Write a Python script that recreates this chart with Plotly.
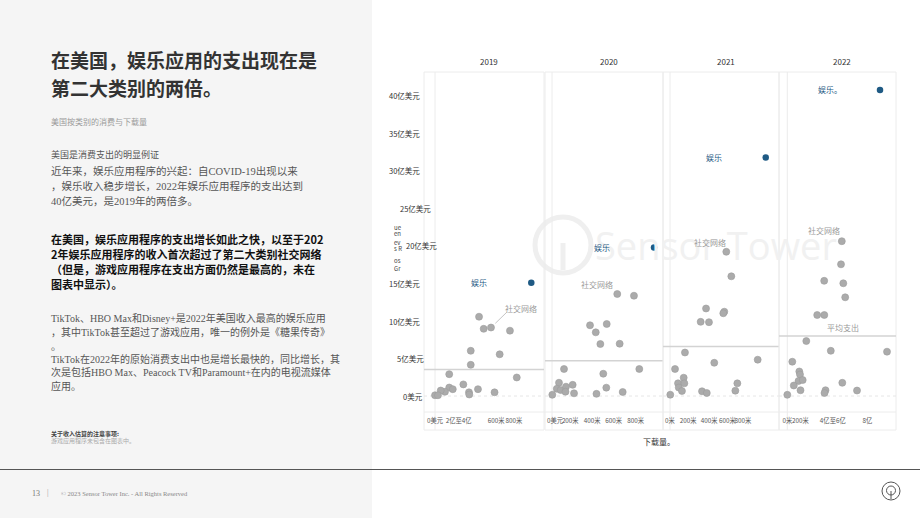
import plotly.graph_objects as go

W, H = 920, 518


def px(x):
    return x / W


def py(y):
    return 1 - y / H


# ---------------- data ----------------
years = ["2019", "2020", "2021", "2022"]

# other categories: downloads (M) and consumer spend (亿美元)
dl_2019 = [446, 493, 567, 759, 362, 655, 362, 144, 828, 287, 435, 144, 180, 101, 58, 0, 30, 344, 347, 603]
rev_2019 = [10.57, 8.96, 9.13, 8.71, 6.03, 5.56, 4.16, 2.91, 2.47, 1.55, 0.91, 1.13, 0.91, 0.56, 0.73, 0.1, 0.1, 0.49, 0.2, 0.49]

dl_2020 = [625, 785, 364, 524, 419, 463, 648, 115, 491, 836, 67, 198, 46, 83, 134, 129, 211, 3, 426, 520, 677]
rev_2020 = [13.6, 13.37, 9.43, 9.6, 8.49, 6.93, 6.97, 3.6, 2.97, 3.6, 1.77, 1.49, 0.96, 0.8, 1.24, 0.57, 0.36, 0.16, 0.29, 1.11, 0.53]

dl_2021 = [617, 672, 395, 595, 584, 336, 427, 164, 485, 961, 55, 150, 88, 157, 96, 131, 3, 351, 403, 738, 716]
rev_2021 = [19.23, 15.96, 11.67, 11.24, 11.03, 9.89, 9.84, 5.8, 4.43, 4.84, 3.6, 2.44, 1.69, 1.69, 1.13, 0.67, 0.17, 0.63, 0.4, 1.69, 0.71]

dl_2022 = [545, 537, 369, 560, 579, 299, 370, 190, 435, 997, 50, 120, 127, 112, 154, 65, 132, 0, 382, 372, 550, 697]
rev_2022 = [20.64, 17.56, 15.36, 15.03, 13.16, 10.8, 10.8, 7.33, 6.03, 5.91, 4.57, 3.27, 2.87, 2.0, 2.13, 1.4, 0.77, 0.16, 0.77, 0.4, 1.76, 0.73]

other_dl = [dl_2019, dl_2020, dl_2021, dl_2022]
other_rev = [rev_2019, rev_2020, rev_2021, rev_2022]

# entertainment
ent_dl = [975, 977, 1049, 927]
ent_rev = [15.1, 19.8, 31.8, 40.8]
ent_labels = ["娱乐", "娱乐", "娱乐", "娱乐。"]
ent_label_dl = [449, 482, 482, 427]

# social networking label anchors
soc_label_dl = [874, 434, 438, 367]
soc_label_rev = [11.7, 14.9, 20.44, 22.1]

# average spend per year
avg_rev = [3.55, 4.7, 6.6, 8.0]

# axis ticks
y_tickvals = [0, 5, 10, 15, 20, 25, 30, 35, 40]
y_ticktext = ["0美元", "5亿美元", "10亿美元", "15亿美元", "20亿美元", "25亿美元", "30亿美元", "35亿美元", "40亿美元"]

x_tickvals = [[0, 240, 620, 800], [30, 175, 385, 590, 800], [0, 200, 430, 630, 800], [0, 130, 455, 800]]
x_ticktext = [["0美元", "2亿至4亿", "600米", "800米"],
              ["0美元", "200米", "400米", "600米", "800米"],
              ["0米", "200米", "400米", "600米", "800米"],
              ["0米", "200米", "4亿至6亿", "8亿"]]

# ---------------- layout geometry ----------------
panel_px = [(424, 544), (545, 663), (663, 779), (779, 896)]
x_ranges = [[-111.4, 1103.8], [-67, 1063], [-76.7, 1194.5], [-83, 1087]]
y_range = [-2.133, 43.2]
ytop, ybot = 72, 412

GRAY = "#ababab"
BLUE = "#1f5a84"
CJK = "Noto Sans CJK SC, Noto Sans, sans-serif"
SERIF = "Liberation Serif, Noto Sans CJK SC, serif"

fig = go.Figure()
layout = dict(
    width=W, height=H,
    margin=dict(l=0, r=0, t=0, b=0, autoexpand=False),
    paper_bgcolor="white", plot_bgcolor="rgba(0,0,0,0)",
    showlegend=False,
    font=dict(family=CJK, size=8, color="#444"),
    yaxis=dict(domain=[py(ybot), py(ytop)], range=y_range, showgrid=False,
               zeroline=False, showticklabels=False, showline=False, fixedrange=True),
)

shapes = []
annotations = []

# left gray panel and footer line
shapes.append(dict(type="rect", xref="paper", yref="paper", x0=0, x1=px(372), y0=0, y1=1,
                   fillcolor="#f5f5f5", line=dict(width=0), layer="below"))
shapes.append(dict(type="line", xref="paper", yref="paper", x0=0, x1=1, y0=py(469.5), y1=py(469.5),
                   line=dict(color="#555", width=1), layer="below"))

# watermark
shapes.append(dict(type="circle", xref="paper", yref="paper", x0=px(535), x1=px(591), y0=py(273), y1=py(217),
                   line=dict(color="#efefef", width=5), layer="below"))
shapes.append(dict(type="line", xref="paper", yref="paper", x0=px(563), x1=px(563), y0=py(270), y1=py(243),
                   line=dict(color="#efefef", width=5), layer="below"))
annotations.append(dict(text="Sensor Tower", xref="paper", yref="paper", x=px(593), y=py(245),
                        xanchor="left", yanchor="middle", showarrow=False,
                        font=dict(family="Open Sans, sans-serif", size=38, color="#f1f1f1")))

for i in range(4):
    n = "" if i == 0 else str(i + 1)
    xa = "xaxis" + n
    layout[xa] = dict(domain=[px(panel_px[i][0]), px(panel_px[i][1])], range=x_ranges[i], anchor="y",
                      showgrid=False, zeroline=False, showline=False, ticks="", tickangle=0,
                      tickvals=x_tickvals[i], ticktext=x_ticktext[i], automargin=False,
                      ticklabelstandoff=4,
                      tickfont=dict(family=CJK, size=6.3, color="#555"), fixedrange=True)
    xr = "x" + n
    # panel frame
    shapes.append(dict(type="rect", xref=xr + " domain", yref="paper", x0=0, x1=1, y0=py(430), y1=py(ytop),
                       line=dict(color="#ececec", width=1), layer="below"))
    # x = 0 line
    shapes.append(dict(type="line", xref=xr, yref="paper", x0=0, x1=0, y0=py(430), y1=py(ytop),
                       line=dict(color="#ececec", width=1), layer="below"))
    # y = 0 line
    shapes.append(dict(type="line", xref=xr + " domain", yref="y", x0=0, x1=1, y0=0, y1=0,
                       line=dict(color="#e6e6e6", width=1, dash="dot"), layer="below"))
    # average spend line
    shapes.append(dict(type="line", xref=xr + " domain", yref="y", x0=0, x1=1, y0=avg_rev[i], y1=avg_rev[i],
                       line=dict(color="#d3d3d3", width=1.5), layer="below"))

    fig.add_trace(go.Scatter(x=other_dl[i], y=other_rev[i], mode="markers", xaxis=xr, yaxis="y",
                             marker=dict(size=7, color=GRAY, line=dict(width=0.6, color="#9c9c9c")),
                             hoverinfo="skip"))
    fig.add_trace(go.Scatter(x=[ent_dl[i]], y=[ent_rev[i]], mode="markers", xaxis=xr, yaxis="y",
                             marker=dict(size=6.5, color=BLUE), hoverinfo="skip"))

    annotations.append(dict(text=ent_labels[i], xref=xr, yref="y", x=ent_label_dl[i], y=ent_rev[i],
                            showarrow=False, font=dict(family=CJK, size=8, color=BLUE)))
    annotations.append(dict(text="社交网络", xref=xr, yref="y", x=soc_label_dl[i], y=soc_label_rev[i],
                            showarrow=False, font=dict(family=CJK, size=8, color="#9a9a9a")))
    annotations.append(dict(text=years[i], xref=xr + " domain", yref="paper", x=0.54, y=py(62),
                            xanchor="center", yanchor="middle",
                            showarrow=False, font=dict(family=CJK, size=8, color="#333")))

# leader line for social networking (2019)
shapes.append(dict(type="line", xref="x", yref="y", x0=726, y0=11.16, x1=611, y1=9.69,
                   line=dict(color="#b5b5b5", width=0.8)))
annotations.append(dict(text="平均支出", xref="x4", yref="y", x=554, y=9.1, showarrow=False,
                        font=dict(family=CJK, size=8, color="#9a9a9a")))

# horizontal header/axis separators
shapes.append(dict(type="line", xref="paper", yref="paper", x0=px(424), x1=px(896), y0=py(ybot), y1=py(ybot),
                   line=dict(color="#ececec", width=1), layer="below"))

# y tick labels
y_label_right = [425, 426, 422, 422, 439, 433, 422, 422, 422]
for v, t, r in zip(y_tickvals, y_ticktext, y_label_right):
    annotations.append(dict(text=t, xref="paper", yref="y", x=px(r), y=v, xanchor="right",
                            showarrow=False, font=dict(family=CJK, size=7.5, color="#333")))

# garbled rotated axis title fragments
frag = [("ue", 227.7), ("en", 233.7), ("ev", 242.3), ("s R", 248.3), ("os", 260), ("Gr", 268.7)]
for t, yy in frag:
    annotations.append(dict(text=t, xref="paper", yref="paper", x=px(392), y=py(yy), xanchor="left",
                            showarrow=False, font=dict(family=CJK, size=6, color="#444")))

annotations.append(dict(text="下载量。", xref="paper", yref="paper", x=px(659), y=py(441),
                        xanchor="center", yanchor="middle",
                        showarrow=False, font=dict(family=CJK, size=8, color="#333")))

# ---------------- left text panel ----------------
def txt(t, x, y, size, color, family=CJK, bold=False):
    annotations.append(dict(text=("<b>%s</b>" % t) if bold else t, xref="paper", yref="paper",
                            x=px(x), y=py(y), xanchor="left", yanchor="middle", showarrow=False,
                            font=dict(family=family, size=size, color=color)))


txt("在美国，娱乐应用的支出现在是", 49, 59, 19, "#333", bold=True)
txt("第二大类别的两倍。", 49, 87, 19, "#333", bold=True)
txt("美国按类别的消费与下载量", 49, 122, 8, "#9a9a9a")

txt("美国是消费支出的明显例证", 49, 155, 9, "#555")
para1 = ["近年来，娱乐应用程序的兴起：自COVID-19出现以来",
         "，娱乐收入稳步增长，2022年娱乐应用程序的支出达到",
         "40亿美元，是2019年的两倍多。"]
for k, line in enumerate(para1):
    txt(line, 49, 171 + k * 15.2, 10.5, "#555", family=SERIF)

para2 = ["在美国，娱乐应用程序的支出增长如此之快，以至于202",
         "2年娱乐应用程序的收入首次超过了第二大类别社交网络",
         "（但是，游戏应用程序在支出方面仍然是最高的，未在",
         "图表中显示）。"]
for k, line in enumerate(para2):
    txt(line, 49, 239 + k * 15, 11, "#111", bold=True)

para3 = [("TikTok、HBO Max和Disney+是2022年美国收入最高的娱乐应用", 318.3),
         ("，其中TikTok甚至超过了游戏应用，唯一的例外是《糖果传奇》", 331.7),
         ("。", 346.7),
         ("TikTok在2022年的原始消费支出中也是增长最快的，同比增长，其", 359.3),
         ("次是包括HBO Max、Peacock TV和Paramount+在内的电视流媒体", 372.3),
         ("应用。", 385.7)]
for line, yy in para3:
    txt(line, 49, yy, 10, "#555", family=SERIF)

txt("关于收入估算的注意事项:", 49, 433, 6, "#444", bold=True)
txt("游戏应用程序未包含在图表中。", 49, 440.5, 6, "#aaa")

# footer
txt("13", 30, 493, 8, "#777", family=SERIF)
txt("|", 45, 492, 8, "#999", family=SERIF)
txt("© 2023 Sensor Tower Inc. - All Rights Reserved", 59, 493, 6.5, "#888", family=SERIF)
shapes.append(dict(type="circle", xref="paper", yref="paper", x0=px(882), x1=px(900), y0=py(500), y1=py(482),
                   line=dict(color="#555", width=1)))
shapes.append(dict(type="circle", xref="paper", yref="paper", x0=px(886.5), x1=px(895.5), y0=py(495), y1=py(486),
                   line=dict(color="#555", width=1)))
shapes.append(dict(type="line", xref="paper", yref="paper", x0=px(891), x1=px(891), y0=py(499), y1=py(491),
                   line=dict(color="#555", width=1)))

layout["shapes"] = shapes
layout["annotations"] = annotations
fig.update_layout(**layout)

fig.write_html("out.html")
